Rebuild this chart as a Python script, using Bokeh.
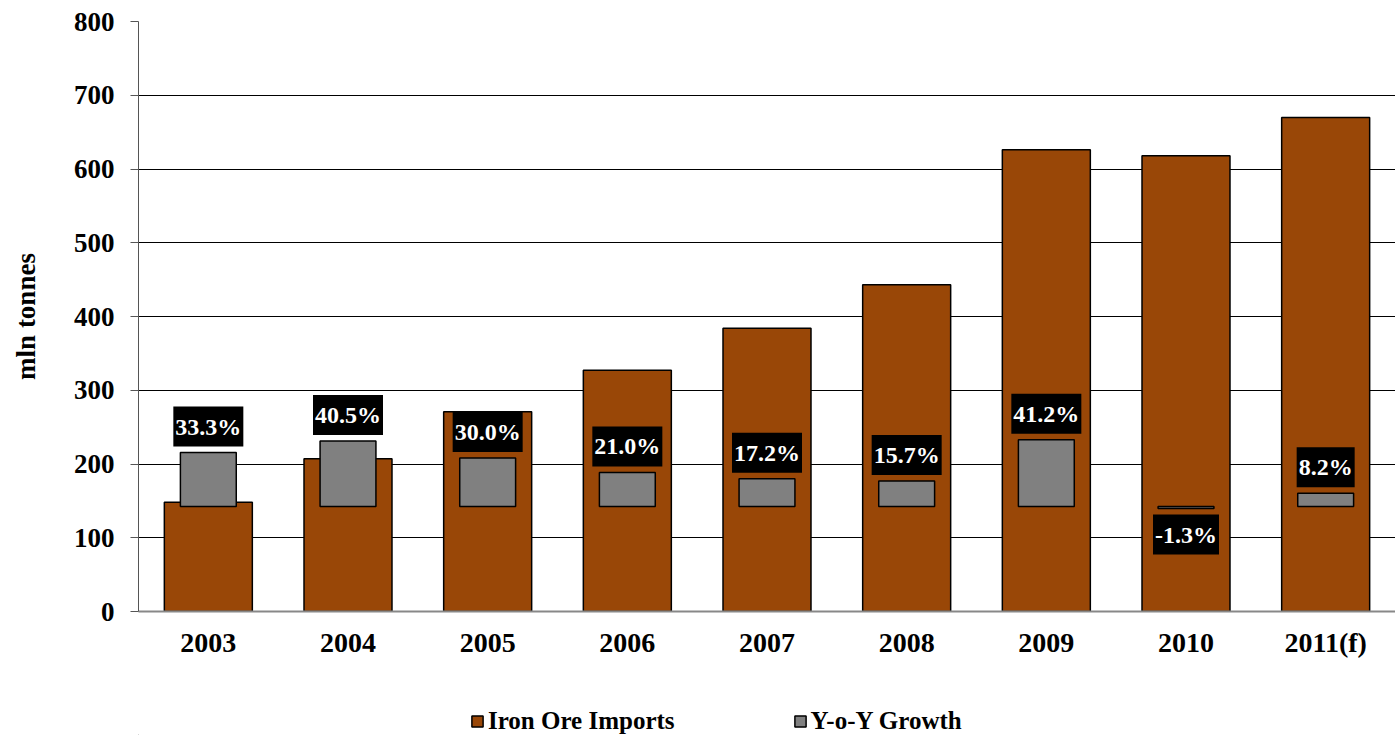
from bokeh.plotting import figure
from bokeh.layouts import column
from bokeh.models import (ColumnDataSource, FactorRange, Range1d,
                          Legend, LegendItem, FixedTicker)
from bokeh.core.properties import value
from bokeh.embed import file_html
from bokeh.resources import INLINE

years = ["2003", "2004", "2005", "2006", "2007", "2008", "2009", "2010", "2011(f)"]
imports = [148, 207, 271, 327, 384, 443, 626, 618, 670]
growth = [33.3, 40.5, 30.0, 21.0, 17.2, 15.7, 41.2, -1.3, 8.2]
growth_labels = ["33.3%", "40.5%", "30.0%", "21.0%", "17.2%", "15.7%", "41.2%", "-1.3%", "8.2%"]

FONT = "Liberation Serif"
BROWN = "#994707"
GREY = "#808080"

src = ColumnDataSource(dict(years=years, imports=imports, growth=growth))
pos_src = ColumnDataSource(dict(
    years=[y for y, g in zip(years, growth) if g >= 0],
    growth=[g for g in growth if g >= 0],
    text=[l for l, g in zip(growth_labels, growth) if g >= 0]))
neg_src = ColumnDataSource(dict(
    years=[y for y, g in zip(years, growth) if g < 0],
    growth=[g for g in growth if g < 0],
    text=[l for l, g in zip(growth_labels, growth) if g < 0]))

p = figure(x_range=FactorRange(*years, range_padding=0), y_range=Range1d(0, 800),
           frame_width=1257, frame_height=590, output_backend="svg", toolbar_location=None,
           min_border_left=138, min_border_top=21, min_border_right=0, min_border_bottom=90)
p.extra_y_ranges = {"growth": Range1d(-65, 300)}
p.outline_line_color = None

r1 = p.vbar(x="years", top="imports", bottom=0, width=0.63, source=src,
            fill_color=BROWN, line_color="black", line_width=1.5)
r2 = p.vbar(x="years", top="growth", bottom=0, width=0.4, source=src, y_range_name="growth",
            fill_color=GREY, line_color="black", line_width=1.5)

common = dict(text_color="white", text_font=value(FONT), text_font_style="bold",
              text_font_size="24px", text_align="center", text="text",
              background_fill_color="black", padding=[2, 7],
              y_range_name="growth")
p.text(x="years", y="growth", source=pos_src, text_baseline="bottom", y_offset=-6, **common)
p.text(x="years", y="growth", source=neg_src, text_baseline="top", y_offset=6, **common)

p.yaxis.ticker = FixedTicker(ticks=list(range(0, 801, 100)))
p.yaxis.minor_tick_line_color = None
p.yaxis.major_tick_out = 8
p.yaxis.major_tick_in = 0
p.yaxis.axis_line_color = "#555555"
p.yaxis.major_tick_line_color = "#555555"
p.yaxis.major_label_text_font = FONT
p.yaxis.major_label_text_font_style = "bold"
p.yaxis.major_label_text_font_size = "27px"
p.yaxis.major_label_text_color = "black"
p.yaxis.major_label_standoff = 16
p.yaxis.axis_label = "mln tonnes"
p.yaxis.axis_label_text_font = FONT
p.yaxis.axis_label_text_font_style = "bold"
p.yaxis.axis_label_text_font_size = "27px"
p.yaxis.axis_label_text_color = "black"
p.yaxis.axis_label_standoff = 30

p.xaxis.axis_line_color = "#888888"
p.xaxis.axis_line_width = 2
p.xaxis.major_tick_line_color = None
p.xaxis.minor_tick_line_color = None
p.xaxis.major_label_text_font = FONT
p.xaxis.major_label_text_font_style = "bold"
p.xaxis.major_label_text_font_size = "28px"
p.xaxis.major_label_text_color = "black"
p.xaxis.major_label_standoff = 9

p.xgrid.grid_line_color = None
p.ygrid.grid_line_color = "black"
p.ygrid.grid_line_width = 1

# legend strip below the chart
lg = figure(width=1395, height=34, x_range=Range1d(0, 1), y_range=Range1d(0, 1),
            output_backend="svg", toolbar_location=None, min_border=0)
lg.axis.visible = False
lg.grid.grid_line_color = None
lg.outline_line_color = None
dummy = ColumnDataSource(dict(x=[-5], top=[-5]))
l1 = lg.vbar(x="x", top="top", bottom=-6, width=0.1, source=dummy, fill_color=BROWN,
             line_color="black", line_width=1.5)
l2 = lg.vbar(x="x", top="top", bottom=-6, width=0.1, source=dummy, fill_color=GREY,
             line_color="black", line_width=1.5)
legend = Legend(items=[LegendItem(label="Iron Ore Imports", renderers=[l1]),
                       LegendItem(label="Y-o-Y Growth", renderers=[l2])],
                orientation="horizontal", location=(332, 0),
                label_text_font=FONT, label_text_font_style="bold",
                label_text_font_size="25px", label_text_color="black",
                glyph_width=14, glyph_height=14,
                spacing=118, border_line_color=None, background_fill_alpha=0,
                label_standoff=4, margin=0, padding=1)
lg.add_layout(legend)

layout = column(p, lg, spacing=0)
open("out.html", "w").write(file_html(layout, INLINE))
